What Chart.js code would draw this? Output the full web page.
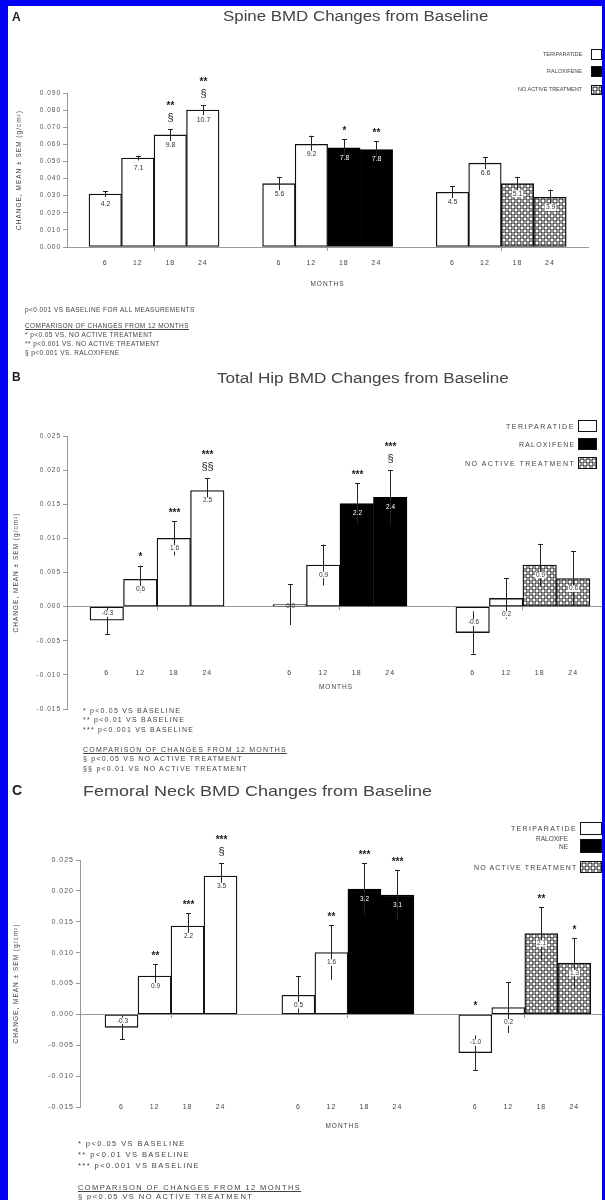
<!DOCTYPE html>
<html>
<head>
<meta charset="utf-8">
<title>BMD Changes from Baseline</title>
<script src="https://cdn.jsdelivr.net/npm/chart.js@4.4.1/dist/chart.umd.min.js"></script>
<style>
  html, body { margin: 0; padding: 0; }
  body {
    width: 605px; height: 1200px; overflow: hidden; position: relative;
    background: #fff; font-family: "Liberation Sans", Arial, sans-serif; color: #333;
  }
  canvas { position: absolute; left: 0; }
  .txt { position: absolute; white-space: nowrap; line-height: 1; will-change: transform; }
  .box { position: absolute; box-sizing: border-box; border: 1.3px solid #111; }
  .frame { position: absolute; background: #0000f6; z-index: 10; }
</style>
</head>
<body>
<div class="frame" style="left:0;top:0;width:8px;height:1200px"></div>
<div class="frame" style="left:0;top:0;width:605px;height:6px"></div>
<div class="frame" style="left:602px;top:0;width:3px;height:1200px"></div>

<canvas id="spine" width="605" height="300" style="top:0"></canvas>
<canvas id="hip" width="605" height="360" style="top:360px"></canvas>
<canvas id="neck" width="605" height="360" style="top:780px"></canvas>

<script>
// ---- data -------------------------------------------------------------
const MONTHS = ['6', '12', '18', '24'];
// treatment arm of each bar: T = teriparatide, R = raloxifene, N = no active treatment
const ARM_OF_BAR = [['T', 'T', 'T', 'T'], ['T', 'T', 'R', 'R'], ['T', 'T', 'N', 'N']];

// Spine BMD (g/cm2), three groups of four visits
const spineMean = [[0.031, 0.052, 0.0655, 0.080], [0.037, 0.060, 0.058, 0.057], [0.032, 0.049, 0.037, 0.029]];
const spineSem  = [[0.0018, 0.0014, 0.0035, 0.003], [0.004, 0.005, 0.005, 0.005], [0.0035, 0.0035, 0.004, 0.0045]];
const spinePct  = [['4.2', '7.1', '9.8', '10.7'], ['5.6', '9.2', '7.8', '7.8'], ['4.5', '6.6', '5.1', '3.9']];
const spineSig  = [['', '', '**\n§', '**\n§'], ['', '', '*', '**'], ['', '', '', '']];
const spineYTicks = [0, 0.01, 0.02, 0.03, 0.04, 0.05, 0.06, 0.07, 0.08, 0.09];

// Total hip BMD
const hipMean = [[-0.002, 0.004, 0.010, 0.017], [0.0003, 0.0061, 0.0151, 0.016], [-0.0038, 0.0012, 0.0061, 0.0041]];
const hipSem  = [[0.002, 0.002, 0.0025, 0.0018], [0.003, 0.003, 0.003, 0.004], [0.0031, 0.003, 0.0031, 0.004]];
const hipPct  = [['-0.3', '0.6', '1.6', '2.5'], ['0.0', '0.9', '2.2', '2.4'], ['-0.6', '0.2', '0.9', '0.6']];
const hipSig  = [['', '*', '***', '***\n§§'], ['', '', '***', '***\n§'], ['', '', '', '']];
const hipYTicks = [-0.015, -0.01, -0.005, 0, 0.005, 0.01, 0.015, 0.02, 0.025];

// Femoral neck BMD
const neckMean = [[-0.0021, 0.0062, 0.0143, 0.0224], [0.0031, 0.010, 0.0203, 0.0193], [-0.0062, 0.0011, 0.0131, 0.0083]];
const neckSem  = [[0.0019, 0.0019, 0.0021, 0.0021], [0.0031, 0.0044, 0.0042, 0.0041], [0.0028, 0.0041, 0.0043, 0.004]];
const neckPct  = [['-0.3', '0.9', '2.2', '3.5'], ['0.5', '1.6', '3.2', '3.1'], ['-1.0', '0.2', '2.1', '1.3']];
const neckSig  = [['', '**', '***', '***\n§'], ['', '**', '***', '***'], ['*', '', '**', '*']];
const neckYTicks = [-0.015, -0.01, -0.005, 0, 0.005, 0.01, 0.015, 0.02, 0.025];

// ---- helpers ----------------------------------------------------------
const FONT = '"Liberation Sans", Arial, sans-serif';
Chart.defaults.font.family = FONT;
Chart.defaults.color = '#444';

// small honeycomb of circles used for the "no active treatment" fill
function dotTile() {
  const c = document.createElement('canvas');
  c.width = c.height = 6;
  const g = c.getContext('2d');
  g.fillStyle = '#fff';
  g.fillRect(0, 0, 6, 6);
  g.strokeStyle = '#333';
  g.lineWidth = 0.9;
  [[0, 0], [6, 0], [0, 6], [6, 6], [3, 3]].forEach(([x, y]) => {
    g.beginPath(); g.arc(x, y, 2, 0, Math.PI * 2); g.stroke();
  });
  return c;
}
const TILE = dotTile();

// wider spacing for the axis numbers
const spacedAxisText = {
  id: 'spacedAxisText',
  beforeDraw(chart) { chart.ctx.letterSpacing = '1px'; }
};

// error bars, in-bar percentage labels and significance marks
const barNotes = {
  id: 'barNotes',
  afterDatasetsDraw(chart, _args, opts) {
    const { ctx, scales: { y } } = chart;
    const zero = y.getPixelForValue(0);
    ctx.save();
    ctx.letterSpacing = '0px';
    chart.data.datasets.forEach((ds, di) => {
      const meta = chart.getDatasetMeta(di);
      meta.data.forEach((bar, j) => {
        const { g, i } = ds.data[j];
        const arm = ARM_OF_BAR[g][i];
        const m = opts.mean[g][i];
        const s = opts.sem[g][i];
        const cx = Math.round(bar.x) + 0.5;
        const dir = m >= 0 ? 1 : -1;
        const yOut = y.getPixelForValue(m + dir * s);
        const yIn = y.getPixelForValue(m - dir * s);

        ctx.strokeStyle = '#222';
        ctx.lineWidth = 1;
        ctx.beginPath();
        ctx.moveTo(cx, yIn); ctx.lineTo(cx, yOut);
        ctx.moveTo(cx - 2.5, Math.round(yOut) + 0.5); ctx.lineTo(cx + 2.5, Math.round(yOut) + 0.5);
        ctx.stroke();

        // percentage change written in the bar
        const h = Math.abs(zero - bar.y);
        let ly;
        if (h < 4) ly = zero;
        else if (m > 0) ly = h < 12 ? zero + 8 : bar.y + 10;
        else ly = h < 20 ? (zero + bar.y) / 2 : bar.y - 10;
        const txt = opts.pct[g][i];
        ctx.font = `${opts.valueSize}px ${FONT}`;
        ctx.textAlign = 'center';
        ctx.textBaseline = 'middle';
        const tw = ctx.measureText(txt).width;
        if (arm !== 'R' && h >= 4) {
          ctx.fillStyle = '#fff';
          ctx.fillRect(cx - tw / 2 - 1, ly - opts.valueSize / 2, tw + 2, opts.valueSize);
        }
        ctx.fillStyle = (arm === 'R' && h >= 12) ? '#fff' : '#333';
        ctx.fillText(txt, cx, ly);

        // significance marks above the bar
        const sig = opts.sig[g][i];
        if (sig) {
          const anchor = Math.min(yOut, zero);
          sig.split('\n').reverse().forEach((t, k) => {
            const yy = anchor - 11 - k * 15;
            const star = t.includes('*');
            ctx.font = star ? `bold 10px ${FONT}` : `11px ${FONT}`;
            ctx.fillStyle = '#222';
            ctx.fillText(t, cx, yy + (star ? 3 : 0));
          });
        }
      });
    });
    ctx.restore();
  }
};

function drawPanel(id, p) {
  const pattern = document.getElementById(id).getContext('2d').createPattern(TILE, 'repeat');
  const points = { T: [], R: [], N: [] };
  const centres = [];
  p.mean.forEach((grp, g) => grp.forEach((v, i) => {
    const x = g * p.period + i;
    centres.push(x);
    points[ARM_OF_BAR[g][i]].push({ x, y: v, g, i });
  }));
  const bounds = [0, 1].map(g => g * p.period + 3.5 + (p.period - 4) / 2);
  const setTicks = vals => scale => { scale.ticks = vals.map(v => ({ value: v })); };

  new Chart(document.getElementById(id), {
    type: 'bar',
    data: {
      datasets: [
        { label: 'TERIPARATIDE', data: points.T, backgroundColor: '#fff', borderColor: '#111' },
        { label: 'RALOXIFENE', data: points.R, backgroundColor: '#000', borderColor: '#000' },
        { label: 'NO ACTIVE TREATMENT', data: points.N, backgroundColor: pattern, borderColor: '#111' }
      ]
    },
    options: {
      responsive: false,
      animation: false,
      devicePixelRatio: 1,
      layout: { padding: p.pad },
      datasets: { bar: { grouped: false, categoryPercentage: 1, barPercentage: 1, borderWidth: 1.3, borderSkipped: false } },
      plugins: {
        legend: { display: false },
        tooltip: { enabled: false },
        barNotes: { mean: p.mean, sem: p.sem, pct: p.pct, sig: p.sig, valueSize: p.valueSize }
      },
      scales: {
        x: {
          type: 'linear', min: p.xMin, max: p.xMax, offset: false,
          position: { y: 0 },
          grid: { display: true, drawOnChartArea: false, drawTicks: true, tickLength: 3, color: '#999' },
          border: { display: true, color: '#999', width: 1 },
          ticks: { display: false },
          afterBuildTicks: setTicks(bounds)
        },
        xl: {
          type: 'linear', axis: 'x', min: p.xMin, max: p.xMax, offset: false,
          position: { y: p.labelAt },
          grid: { display: false, drawTicks: false },
          border: { display: false },
          ticks: {
            padding: 12, autoSkip: false, maxRotation: 0, minRotation: 0,
            font: { size: 7 }, color: '#444',
            callback: (v, idx) => MONTHS[idx % 4]
          },
          afterBuildTicks: setTicks(centres),
          title: { display: true, text: 'MONTHS', font: { size: 6.5 }, color: '#444', padding: { top: p.monthsPad, bottom: 0 } }
        },
        y: {
          min: p.yTicks[0], max: p.yTicks[p.yTicks.length - 1],
          afterBuildTicks: setTicks(p.yTicks),
          afterFit: s => { s.width = p.yWidth; },
          grid: { display: true, drawOnChartArea: false, drawTicks: true, tickLength: 4, color: '#999' },
          border: { display: true, color: '#999', width: 1 },
          ticks: { padding: 2, font: { size: p.yTickSize }, color: '#555', callback: v => v.toFixed(3) },
          title: {
            display: true, text: 'CHANGE, MEAN \u00b1 SEM (g/cm\u00b2)',
            font: { size: 6.5 }, color: '#444', padding: { top: p.yTitlePad, bottom: 0 }
          }
        }
      }
    },
    plugins: [spacedAxisText, barNotes]
  });
}

drawPanel('spine', {
  mean: spineMean, sem: spineSem, pct: spinePct, sig: spineSig, yTicks: spineYTicks,
  period: 5.34, xMin: -1.177, xMax: 14.85, labelAt: 0, monthsPad: 0.5,
  pad: { left: 8, top: 93, right: 17, bottom: 53 }, yWidth: 59, yTitlePad: 7,
  yTickSize: 6.5, valueSize: 7
});
drawPanel('hip', {
  mean: hipMean, sem: hipSem, pct: hipPct, sig: hipSig, yTicks: hipYTicks,
  period: 5.46, xMin: -1.187, xMax: 14.87, labelAt: -0.0073, monthsPad: -6,
  pad: { left: 8, top: 76, right: 0, bottom: 11 }, yWidth: 59, yTitlePad: 4,
  yTickSize: 6.5, valueSize: 6.5
});
drawPanel('neck', {
  mean: neckMean, sem: neckSem, pct: neckPct, sig: neckSig, yTicks: neckYTicks,
  period: 5.36, xMin: -1.258, xMax: 14.65, labelAt: -0.0124, monthsPad: -1,
  pad: { left: 8, top: 80, right: 0, bottom: 33 }, yWidth: 72, yTitlePad: 4,
  yTickSize: 7, valueSize: 6.5
});

// ---- titles, legends and footnotes ------------------------------------
// Text is widened either by a horizontal scale (large titles) or by letter
// spacing (small print) so that each line spans the wanted width.
function label(text, x, y, o = {}) {
  const d = document.createElement('div');
  d.className = 'txt';
  d.textContent = text;
  const size = o.size || 7;
  d.style.fontSize = size + 'px';
  if (o.bold) d.style.fontWeight = 'bold';
  if (o.underline) d.style.textDecoration = 'underline';
  d.style.color = o.color || '#333';
  document.body.appendChild(d);
  const natural = d.offsetWidth;
  let w = natural;
  let spacing = o.spacing || 0;
  if (o.scale && o.width) {
    const sx = o.width / natural;
    d.style.transformOrigin = '0 50%';
    d.style.transform = `scaleX(${sx})`;
    w = o.width;
  } else {
    if (o.width) spacing = (o.width - natural) / text.length;
    d.style.letterSpacing = spacing + 'px';
    w = d.offsetWidth;
  }
  const align = o.align || 'left';
  const left = align === 'left' ? x : align === 'right' ? x - w : x - w / 2;
  d.style.left = Math.round(left) + 'px';
  d.style.top = Math.round(y - size / 2) + 'px';
  return spacing;
}
function box(x, y, w, h, kind) {
  const d = document.createElement('div');
  d.className = 'box';
  Object.assign(d.style, { left: x + 'px', top: y + 'px', width: w + 'px', height: h + 'px' });
  if (kind === 'R') d.style.background = '#000';
  else if (kind === 'N') d.style.backgroundImage = `url(${TILE.toDataURL()})`;
  else d.style.background = '#fff';
  document.body.appendChild(d);
}
function notes(lines, x, size) {
  let spacing = 0;
  lines.forEach(([t, y, extra]) => {
    const r = label(t, x, y, Object.assign({ size, color: '#444', spacing }, extra || {}));
    if (extra && extra.width) spacing = r;
  });
}

// panel A
label('A', 12, 17, { size: 12, bold: true, color: '#222' });
label('Spine BMD Changes from Baseline', 355, 16, { size: 14, width: 265, scale: true, align: 'center', color: '#444' });
label('TERIPARATIDE', 582, 55, { size: 5.5, align: 'right', color: '#444' });
label('RALOXIFENE', 582, 71.5, { size: 5.5, align: 'right', color: '#444' });
label('NO ACTIVE TREATMENT', 582, 90, { size: 5.5, align: 'right', color: '#444' });
box(591, 49, 11, 11, 'T'); box(591, 66, 11, 11, 'R'); box(591, 85, 11, 10, 'N');
notes([
  ['p<0.001 VS BASELINE FOR ALL MEASUREMENTS', 310, { width: 170 }],
  ['COMPARISON OF CHANGES FROM 12 MONTHS', 326, { underline: true }],
  ['* p<0.05 VS. NO ACTIVE TREATMENT', 335],
  ['** p<0.001 VS. NO ACTIVE TREATMENT', 344],
  ['\u00a7  p<0.001 VS. RALOXIFENE', 353]
], 25, 6.5);

// panel B
label('B', 12, 377, { size: 12, bold: true, color: '#222' });
label('Total Hip BMD Changes from Baseline', 363, 378, { size: 14, width: 292, scale: true, align: 'center', color: '#444' });
label('TERIPARATIDE', 575, 426, { size: 7, width: 69, align: 'right', color: '#444' });
label('RALOXIFENE', 575, 444, { size: 7, width: 56, align: 'right', color: '#444' });
label('NO ACTIVE TREATMENT', 575, 463, { size: 7, width: 110, align: 'right', color: '#444' });
box(578, 420, 19, 12, 'T'); box(578, 438, 19, 12, 'R'); box(578, 457, 19, 12, 'N');
notes([
  ['*** p<0.001 VS BASELINE', 729, { width: 111 }],
  ['* p<0.05 VS BASELINE', 710],
  ['** p<0.01 VS BASELINE', 719.5],
  ['COMPARISON OF CHANGES FROM 12 MONTHS', 749, { underline: true }],
  ['\u00a7  p<0.05 VS NO ACTIVE TREATMENT', 758],
  ['\u00a7\u00a7 p<0.01 VS NO ACTIVE TREATMENT', 768]
], 83, 7);

// panel C
label('C', 12, 790, { size: 14, bold: true, color: '#222' });
label('Femoral Neck BMD Changes from Baseline', 83, 790, { size: 15, width: 349, scale: true, color: '#444' });
label('TERIPARATIDE', 577, 828, { size: 7, width: 66, align: 'right', color: '#444' });
label('RALOXIFE', 568, 839, { size: 6.5, align: 'right', color: '#444' });
label('NE', 568, 847.5, { size: 6.5, align: 'right', color: '#444' });
label('NO ACTIVE TREATMENT', 577, 867, { size: 7, width: 103, align: 'right', color: '#444' });
box(580, 822, 22, 13, 'T'); box(580, 839, 22, 14, 'R'); box(580, 861, 22, 12, 'N');
notes([
  ['*** p<0.001 VS BASELINE', 1166, { width: 122 }],
  ['* p<0.05 VS BASELINE', 1144],
  ['** p<0.01 VS BASELINE', 1154.5],
  ['COMPARISON OF CHANGES FROM 12 MONTHS', 1188, { underline: true }],
  ['\u00a7  p<0.05 VS NO ACTIVE TREATMENT', 1197]
], 78, 7.5);
</script>
</body>
</html>
